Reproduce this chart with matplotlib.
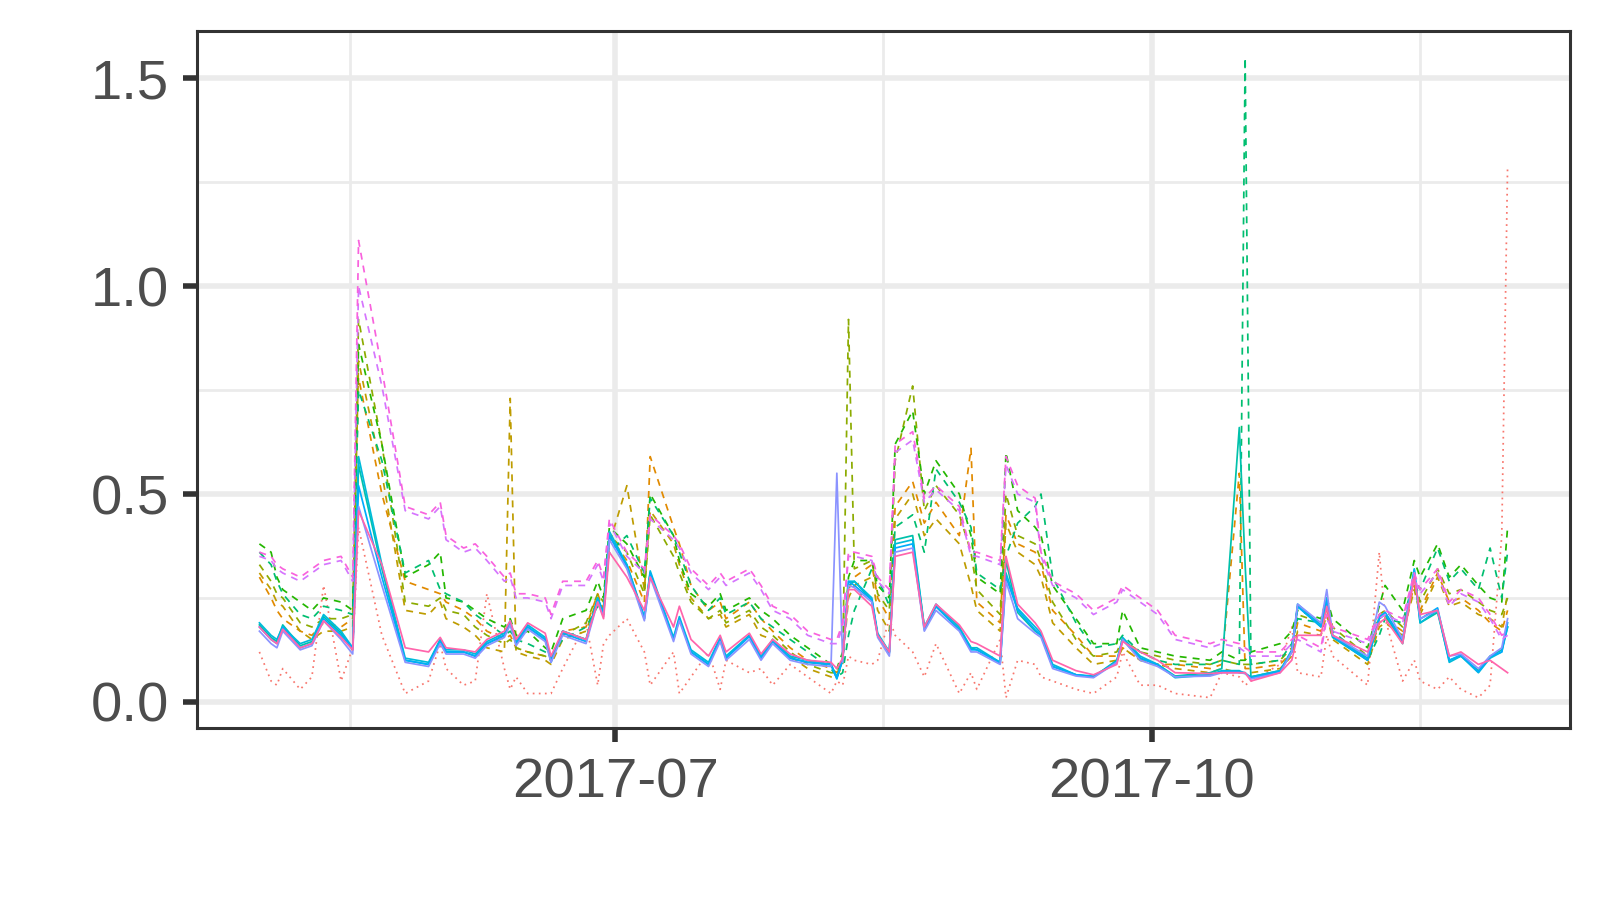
import pandas as pd
import matplotlib
matplotlib.use("Agg")
import matplotlib.pyplot as plt

plt.rcParams["font.family"] = ["Liberation Sans", "DejaVu Sans"]

# day offsets from 2017-05-01 (shared by every series)
day = [0, 2, 3, 4, 7, 9, 11, 14, 16, 17,
       21, 25, 29, 31, 32, 35, 37, 39, 42, 43,
       44, 46, 49, 50, 52, 56, 58, 59, 60, 63,
       66, 67, 71, 72, 74, 77, 79, 80, 84, 86,
       88, 91, 94, 98, 99, 100, 101, 102, 105, 106,
       108, 109, 112, 114, 116, 120, 122, 123, 127, 128,
       130, 133, 134, 136, 140, 143, 147, 148, 151, 154,
       157, 163, 165, 168, 169, 170, 175, 177, 178, 182,
       183, 184, 190, 192, 193, 196, 198, 199, 202, 204,
       206, 209, 211, 213, 214]

red = [0.12, 0.05, 0.04, 0.08, 0.03, 0.06, 0.28, 0.05, 0.13, 0.42,
       0.16, 0.02, 0.05, 0.14, 0.08, 0.04, 0.05, 0.26, 0.08, 0.03,
       0.06, 0.02, 0.02, 0.02, 0.08, 0.19, 0.04, 0.14, 0.16, 0.20,
       0.12, 0.04, 0.12, 0.02, 0.06, 0.12, 0.03, 0.10, 0.07, 0.08,
       0.04, 0.09, 0.06, 0.02, 0.05, 0.04, 0.11, 0.10, 0.09, 0.10,
       0.20, 0.16, 0.12, 0.06, 0.14, 0.02, 0.07, 0.03, 0.15, 0.01,
       0.10, 0.09, 0.06, 0.05, 0.03, 0.02, 0.06, 0.12, 0.04, 0.04,
       0.02, 0.01, 0.07, 0.06, 0.04, 0.05, 0.09, 0.18, 0.07, 0.06,
       0.16, 0.11, 0.04, 0.36, 0.20, 0.05, 0.10, 0.05, 0.03, 0.06,
       0.03, 0.01, 0.04, 0.40, 1.29]

orange = [0.30, 0.25, 0.22, 0.20, 0.17, 0.16, 0.19, 0.18, 0.20, 0.78,
          0.50, 0.29, 0.27, 0.26, 0.24, 0.22, 0.20, 0.17, 0.15, 0.16,
          0.13, 0.12, 0.11, 0.10, 0.17, 0.18, 0.26, 0.22, 0.40, 0.34,
          0.24, 0.59, 0.42, 0.38, 0.28, 0.22, 0.24, 0.20, 0.24, 0.20,
          0.17, 0.13, 0.10, 0.08, 0.07, 0.10, 0.27, 0.30, 0.33, 0.25,
          0.20, 0.47, 0.53, 0.43, 0.48, 0.40, 0.61, 0.24, 0.19, 0.45,
          0.38, 0.36, 0.33, 0.22, 0.16, 0.11, 0.11, 0.13, 0.10, 0.09,
          0.09, 0.08, 0.09, 0.55, 0.08, 0.08, 0.09, 0.12, 0.19, 0.17,
          0.22, 0.16, 0.10, 0.19, 0.20, 0.17, 0.28, 0.22, 0.31, 0.24,
          0.25, 0.22, 0.19, 0.17, 0.22]

gold = [0.31, 0.27, 0.24, 0.23, 0.17, 0.15, 0.17, 0.17, 0.18, 0.82,
        0.55, 0.22, 0.21, 0.24, 0.20, 0.18, 0.16, 0.13, 0.12, 0.73,
        0.12, 0.11, 0.10, 0.09, 0.15, 0.17, 0.25, 0.23, 0.38, 0.52,
        0.27, 0.46, 0.38, 0.33, 0.25, 0.20, 0.21, 0.18, 0.21, 0.16,
        0.15, 0.11, 0.08, 0.06, 0.06, 0.09, 0.25, 0.28, 0.30, 0.22,
        0.17, 0.44, 0.50, 0.40, 0.44, 0.38, 0.28, 0.22, 0.17, 0.43,
        0.36, 0.33, 0.30, 0.19, 0.13, 0.09, 0.10, 0.13, 0.10, 0.09,
        0.08, 0.07, 0.08, 0.07, 0.07, 0.07, 0.08, 0.11, 0.17, 0.16,
        0.21, 0.15, 0.09, 0.18, 0.19, 0.16, 0.27, 0.21, 0.30, 0.23,
        0.24, 0.21, 0.20, 0.18, 0.26]

olive = [0.33, 0.29, 0.26, 0.25, 0.19, 0.18, 0.20, 0.20, 0.21, 0.92,
         0.62, 0.24, 0.23, 0.25, 0.22, 0.21, 0.18, 0.16, 0.14, 0.15,
         0.13, 0.12, 0.11, 0.10, 0.16, 0.19, 0.26, 0.24, 0.40, 0.36,
         0.26, 0.45, 0.35, 0.31, 0.24, 0.20, 0.22, 0.19, 0.22, 0.18,
         0.16, 0.12, 0.09, 0.07, 0.07, 0.10, 0.92, 0.32, 0.34, 0.26,
         0.22, 0.58, 0.76, 0.46, 0.52, 0.45, 0.36, 0.27, 0.21, 0.50,
         0.40, 0.38, 0.34, 0.24, 0.15, 0.11, 0.12, 0.15, 0.12, 0.11,
         0.10, 0.09, 0.10, 0.09, 0.09, 0.09, 0.10, 0.13, 0.21, 0.19,
         0.24, 0.18, 0.11, 0.21, 0.22, 0.18, 0.30, 0.24, 0.32, 0.26,
         0.27, 0.24, 0.22, 0.21, 0.25]

green = [0.38, 0.36, 0.30, 0.27, 0.24, 0.22, 0.25, 0.24, 0.22, 0.86,
         0.62, 0.30, 0.33, 0.36, 0.25, 0.24, 0.22, 0.20, 0.18, 0.20,
         0.16, 0.17, 0.13, 0.12, 0.20, 0.22, 0.29, 0.25, 0.42, 0.38,
         0.30, 0.50, 0.40, 0.34, 0.26, 0.23, 0.26, 0.22, 0.25, 0.22,
         0.20, 0.16, 0.13, 0.09, 0.08, 0.12, 0.30, 0.34, 0.34, 0.28,
         0.25, 0.62, 0.70, 0.50, 0.58, 0.50, 0.40, 0.30, 0.26, 0.60,
         0.46, 0.42, 0.40, 0.28, 0.20, 0.14, 0.14, 0.22, 0.13, 0.12,
         0.11, 0.10, 0.12, 0.10, 0.10, 0.12, 0.14, 0.17, 0.22, 0.20,
         0.25, 0.20, 0.13, 0.23, 0.28, 0.22, 0.34, 0.30, 0.38, 0.30,
         0.33, 0.28, 0.25, 0.24, 0.42]

seagreen = [0.36, 0.33, 0.29, 0.26, 0.21, 0.20, 0.23, 0.22, 0.21, 0.75,
            0.58, 0.31, 0.34, 0.27, 0.26, 0.24, 0.21, 0.19, 0.16, 0.17,
            0.15, 0.14, 0.12, 0.11, 0.15, 0.18, 0.23, 0.22, 0.36, 0.40,
            0.31, 0.49, 0.40, 0.36, 0.28, 0.22, 0.25, 0.21, 0.24, 0.20,
            0.18, 0.15, 0.12, 0.08, 0.06, 0.07, 0.16, 0.22, 0.32, 0.30,
            0.23, 0.42, 0.45, 0.36, 0.56, 0.48, 0.42, 0.31, 0.27, 0.35,
            0.43, 0.47, 0.50, 0.30, 0.19, 0.13, 0.14, 0.16, 0.12, 0.10,
            0.09, 0.09, 0.10, 0.09, 1.55, 0.09, 0.10, 0.14, 0.20, 0.19,
            0.23, 0.17, 0.10, 0.16, 0.20, 0.19, 0.30, 0.27, 0.37, 0.29,
            0.32, 0.27, 0.37, 0.25, 0.36]

teal = [0.185, 0.155, 0.145, 0.185, 0.135, 0.145, 0.205, 0.165, 0.125, 0.57,
        0.32, 0.10, 0.09, 0.15, 0.12, 0.12, 0.11, 0.14, 0.16, 0.19,
        0.14, 0.18, 0.15, 0.10, 0.17, 0.15, 0.25, 0.21, 0.40, 0.33,
        0.20, 0.31, 0.15, 0.20, 0.12, 0.09, 0.15, 0.105, 0.16, 0.105,
        0.145, 0.105, 0.095, 0.09, 0.06, 0.10, 0.28, 0.29, 0.245, 0.16,
        0.12, 0.39, 0.40, 0.18, 0.23, 0.175, 0.13, 0.125, 0.095, 0.34,
        0.215, 0.17, 0.16, 0.085, 0.065, 0.06, 0.10, 0.15, 0.105, 0.09,
        0.062, 0.07, 0.08, 0.66, 0.33, 0.06, 0.075, 0.12, 0.23, 0.18,
        0.24, 0.155, 0.10, 0.20, 0.21, 0.14, 0.31, 0.19, 0.215, 0.10,
        0.11, 0.075, 0.11, 0.125, 0.18]

cyan = [0.19, 0.16, 0.15, 0.18, 0.14, 0.15, 0.21, 0.17, 0.13, 0.59,
        0.33, 0.105, 0.095, 0.15, 0.125, 0.125, 0.115, 0.145, 0.165, 0.195,
        0.145, 0.185, 0.155, 0.095, 0.17, 0.15, 0.25, 0.215, 0.41, 0.33,
        0.205, 0.315, 0.155, 0.205, 0.125, 0.095, 0.155, 0.11, 0.16, 0.11,
        0.15, 0.11, 0.10, 0.09, 0.055, 0.105, 0.29, 0.29, 0.25, 0.165,
        0.12, 0.38, 0.39, 0.18, 0.235, 0.18, 0.13, 0.13, 0.095, 0.31,
        0.225, 0.18, 0.165, 0.09, 0.065, 0.062, 0.095, 0.155, 0.11, 0.09,
        0.058, 0.065, 0.075, 0.075, 0.068, 0.06, 0.075, 0.125, 0.235, 0.185,
        0.25, 0.16, 0.105, 0.205, 0.215, 0.15, 0.32, 0.19, 0.22, 0.095,
        0.11, 0.07, 0.105, 0.12, 0.18]

blue = [0.18, 0.15, 0.14, 0.18, 0.13, 0.14, 0.20, 0.16, 0.13, 0.52,
        0.30, 0.10, 0.09, 0.145, 0.12, 0.12, 0.11, 0.14, 0.16, 0.19,
        0.14, 0.18, 0.15, 0.10, 0.165, 0.145, 0.245, 0.21, 0.40, 0.325,
        0.20, 0.31, 0.15, 0.20, 0.12, 0.09, 0.15, 0.105, 0.157, 0.105,
        0.145, 0.105, 0.095, 0.089, 0.057, 0.10, 0.29, 0.28, 0.245, 0.16,
        0.117, 0.37, 0.38, 0.173, 0.229, 0.173, 0.125, 0.125, 0.093, 0.30,
        0.221, 0.173, 0.16, 0.085, 0.065, 0.06, 0.097, 0.149, 0.105, 0.089,
        0.06, 0.065, 0.073, 0.072, 0.07, 0.057, 0.073, 0.12, 0.229, 0.181,
        0.245, 0.157, 0.10, 0.20, 0.215, 0.145, 0.317, 0.199, 0.226, 0.10,
        0.113, 0.072, 0.109, 0.12, 0.19]

violet = [0.17, 0.14, 0.13, 0.17, 0.125, 0.135, 0.195, 0.15, 0.115, 0.47,
          0.28, 0.095, 0.085, 0.14, 0.115, 0.115, 0.105, 0.135, 0.155, 0.185,
          0.135, 0.175, 0.145, 0.095, 0.16, 0.14, 0.24, 0.205, 0.39, 0.32,
          0.195, 0.30, 0.145, 0.195, 0.115, 0.085, 0.145, 0.10, 0.15, 0.10,
          0.14, 0.10, 0.09, 0.085, 0.55, 0.095, 0.28, 0.275, 0.24, 0.155,
          0.11, 0.36, 0.37, 0.17, 0.22, 0.17, 0.12, 0.12, 0.09, 0.29,
          0.20, 0.165, 0.155, 0.08, 0.062, 0.058, 0.095, 0.15, 0.10, 0.085,
          0.06, 0.062, 0.07, 0.07, 0.068, 0.055, 0.07, 0.12, 0.235, 0.19,
          0.27, 0.16, 0.11, 0.24, 0.23, 0.15, 0.31, 0.20, 0.22, 0.11,
          0.115, 0.08, 0.11, 0.13, 0.20]

lilac = [0.35, 0.34, 0.32, 0.31, 0.29, 0.31, 0.33, 0.34, 0.29, 1.00,
         0.76, 0.46, 0.44, 0.47, 0.39, 0.36, 0.37, 0.34, 0.29, 0.30,
         0.25, 0.25, 0.24, 0.20, 0.28, 0.28, 0.33, 0.29, 0.43, 0.35,
         0.31, 0.44, 0.39, 0.37, 0.31, 0.27, 0.30, 0.28, 0.31, 0.27,
         0.22, 0.20, 0.16, 0.14, 0.14, 0.18, 0.35, 0.35, 0.34, 0.29,
         0.26, 0.60, 0.63, 0.48, 0.51, 0.46, 0.35, 0.35, 0.33, 0.57,
         0.50, 0.48, 0.35, 0.28, 0.25, 0.21, 0.24, 0.27, 0.24, 0.21,
         0.15, 0.13, 0.14, 0.13, 0.12, 0.11, 0.11, 0.14, 0.15, 0.12,
         0.20, 0.17, 0.14, 0.20, 0.21, 0.19, 0.30, 0.26, 0.31, 0.23,
         0.26, 0.24, 0.20, 0.15, 0.16]

magenta = [0.36, 0.35, 0.33, 0.32, 0.30, 0.32, 0.34, 0.35, 0.30, 1.11,
           0.80, 0.47, 0.45, 0.48, 0.40, 0.37, 0.38, 0.35, 0.30, 0.31,
           0.26, 0.26, 0.25, 0.21, 0.29, 0.29, 0.34, 0.30, 0.44, 0.36,
           0.32, 0.45, 0.40, 0.38, 0.32, 0.28, 0.31, 0.29, 0.32, 0.28,
           0.23, 0.21, 0.17, 0.15, 0.15, 0.19, 0.36, 0.36, 0.35, 0.30,
           0.27, 0.62, 0.65, 0.49, 0.52, 0.47, 0.36, 0.36, 0.34, 0.59,
           0.52, 0.49, 0.36, 0.29, 0.26, 0.22, 0.25, 0.28, 0.25, 0.22,
           0.16, 0.14, 0.15, 0.14, 0.13, 0.12, 0.12, 0.15, 0.16, 0.13,
           0.21, 0.18, 0.15, 0.21, 0.22, 0.20, 0.31, 0.27, 0.32, 0.24,
           0.27, 0.25, 0.21, 0.16, 0.17]

pink = [0.18, 0.15, 0.14, 0.175, 0.13, 0.14, 0.195, 0.155, 0.125, 0.46,
        0.33, 0.13, 0.12, 0.155, 0.13, 0.125, 0.12, 0.15, 0.17, 0.195,
        0.15, 0.19, 0.165, 0.11, 0.17, 0.15, 0.24, 0.20, 0.36, 0.30,
        0.22, 0.30, 0.18, 0.23, 0.15, 0.11, 0.16, 0.12, 0.165, 0.115,
        0.15, 0.115, 0.10, 0.095, 0.08, 0.105, 0.27, 0.27, 0.23, 0.16,
        0.12, 0.35, 0.36, 0.18, 0.235, 0.185, 0.145, 0.14, 0.11, 0.35,
        0.235, 0.19, 0.17, 0.10, 0.075, 0.065, 0.09, 0.145, 0.12, 0.10,
        0.07, 0.068, 0.07, 0.07, 0.07, 0.05, 0.07, 0.10, 0.16, 0.16,
        0.23, 0.16, 0.12, 0.19, 0.20, 0.14, 0.30, 0.21, 0.22, 0.11,
        0.12, 0.09, 0.10, 0.08, 0.07]

solid = "-"
dashed = (0, (4, 3.5))
dotted = (0, (1, 2.5))

lines = [
    (red, "#F8766D", dotted),
    (orange, "#E18A00", dashed),
    (gold, "#BE9C00", dashed),
    (olive, "#8CAB00", dashed),
    (green, "#24B700", dashed),
    (seagreen, "#00BE70", dashed),
    (teal, "#00C1AB", solid),
    (cyan, "#00BBDA", solid),
    (blue, "#00ACFC", solid),
    (violet, "#8B93FF", solid),
    (lilac, "#D575FE", dashed),
    (magenta, "#F962DD", dashed),
    (pink, "#FF65AC", solid),
]

start = pd.Timestamp("2017-05-01")
dates = start + pd.to_timedelta(day, unit="D")

fig = plt.figure(figsize=(16, 9), dpi=100)
ax = fig.add_axes([197 / 1600, 1 - 728 / 900, (1570 - 197) / 1600, (728 - 31) / 900])

for vals, col, ls in lines:
    ax.plot(dates, vals, color=col, linestyle=ls, linewidth=1.25)

ax.set_xlim(start - pd.Timedelta(days=10.7), start + pd.Timedelta(days=224.7))
ax.set_ylim(-0.063, 1.614)

ax.set_xticks([pd.Timestamp("2017-07-01"), pd.Timestamp("2017-10-01")])
ax.set_xticklabels(["2017-07", "2017-10"])
ax.set_xticks([pd.Timestamp("2017-05-16 12:00"), pd.Timestamp("2017-08-16"),
               pd.Timestamp("2017-11-16")], minor=True)
ax.set_yticks([0, 0.5, 1.0, 1.5])
ax.set_yticklabels(["0.0", "0.5", "1.0", "1.5"])
ax.set_yticks([0.25, 0.75, 1.25], minor=True)

ax.grid(which="major", color="#EBEBEB", linewidth=4)
ax.grid(which="minor", color="#EBEBEB", linewidth=2)
ax.set_axisbelow(True)

for s in ax.spines.values():
    s.set_color("#333333")
    s.set_linewidth(2.2)

ax.tick_params(which="major", length=10, width=4, color="#333333",
               labelsize=40.5, labelcolor="#4D4D4D")
ax.tick_params(axis="y", pad=10)
ax.tick_params(axis="x", pad=11)
ax.tick_params(which="minor", length=0)

fig.savefig("out.png", dpi=100, facecolor="white")
